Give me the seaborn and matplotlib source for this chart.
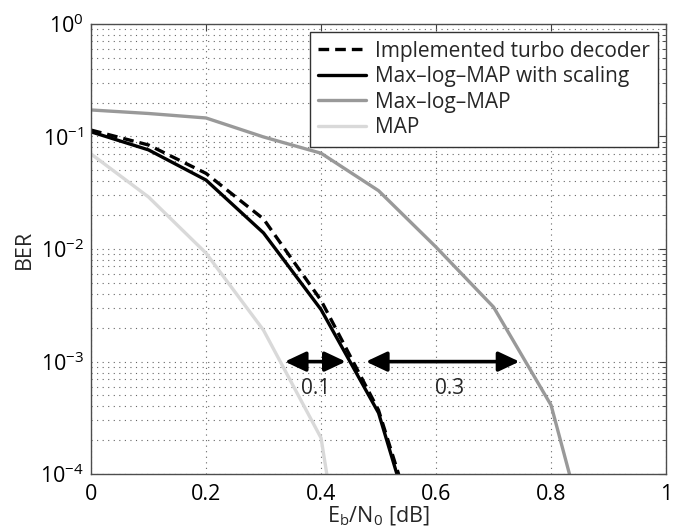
import numpy as np
import pandas as pd
import seaborn as sns
import matplotlib.pyplot as plt
from matplotlib.patches import FancyArrowPatch
from matplotlib.ticker import LogLocator, NullFormatter, FixedLocator

# --------------------------- DATA ---------------------------
ebn0 = [0.0, 0.1, 0.2, 0.3, 0.4, 0.5, 0.6, 0.7, 0.8, 0.9]

ber_implemented = [0.114, 0.084, 0.047, 0.0185, 0.0035, 3.7e-4, 8.7e-6]
ber_maxlog_scaled = [0.11, 0.076, 0.041, 0.0139, 0.0029, 3.5e-4, 7e-6]
ber_maxlog = [0.172, 0.16, 0.146, 0.099, 0.071, 0.033, 0.0104, 0.00305, 4.1e-4, 5e-6]
ber_map = [0.07, 0.029, 0.0092, 0.0019, 2.1e-4, 1.3e-7]

labels = ["Implemented turbo decoder", "Max\u2013log\u2013MAP with scaling",
          "Max\u2013log\u2013MAP", "MAP"]

# gain arrows at BER = 1e-3: (start, end, label position, text)
arrow_y = 1e-3
arrows = [(0.337, 0.443, 0.39, "0.1"), (0.478, 0.745, 0.624, "0.3")]
arrow_text_y = 5.8e-4

# --------------------------- STYLE ---------------------------
sns.set_style("white")
plt.rcParams['font.family'] = ['Open Sans', 'DejaVu Sans']
plt.rcParams['mathtext.fontset'] = 'custom'
plt.rcParams['mathtext.rm'] = 'Open Sans'
plt.rcParams['mathtext.it'] = 'Open Sans:italic'
plt.rcParams['axes.unicode_minus'] = True

series = [
    (ber_implemented, labels[0], 'black', (0, (3.2, 1.8))),
    (ber_maxlog_scaled, labels[1], 'black', '-'),
    (ber_maxlog, labels[2], '#999999', '-'),
    (ber_map, labels[3], '#d9d9d9', '-'),
]

fig = plt.figure(figsize=(6.79, 5.31), dpi=100)
ax = fig.add_axes([0.134, 0.107, 0.847, 0.848])

for vals, lab, col, ls in series:
    df = pd.DataFrame({'x': ebn0[:len(vals)], 'y': vals})
    sns.lineplot(data=df, x='x', y='y', ax=ax, color=col, linewidth=2.4,
                 linestyle=ls, label=lab, sort=False, estimator=None)

ax.set_yscale('log')
ax.set_xlim(0, 1)
ax.set_ylim(1e-4, 1)

ax.xaxis.set_major_locator(FixedLocator([0, 0.2, 0.4, 0.6, 0.8, 1.0]))
ax.set_xticklabels(['0', '0.2', '0.4', '0.6', '0.8', '1'])
ax.yaxis.set_major_locator(LogLocator(base=10, numticks=10))
ax.yaxis.set_minor_locator(LogLocator(base=10, subs=np.arange(2, 10), numticks=20))
ax.yaxis.set_minor_formatter(NullFormatter())

ax.grid(True, which='major', axis='both', linestyle=(0, (1, 4)), color='0.4', linewidth=0.8)
ax.grid(True, which='minor', axis='y', linestyle=(0, (1, 4)), color='0.4', linewidth=0.8)

ax.tick_params(which='both', direction='in', top=True, right=True, labelsize=15.5,
               colors='0.25', labelcolor='black')
ax.tick_params(which='major', length=5, width=0.8)
ax.tick_params(which='minor', length=3, width=0.6)
ax.tick_params(axis='x', pad=7)
ax.tick_params(axis='y', pad=5)
for sp in ax.spines.values():
    sp.set_color('0.3')
    sp.set_linewidth(1.0)

ax.set_xlabel(r'E$_\mathregular{b}$/N$_\mathregular{0}$ [dB]', fontsize=15.5, labelpad=0)
ax.set_ylabel('BER', fontsize=15.5, labelpad=4)

# --------------------------- ARROWS ---------------------------
for x0, x1, xt, txt in arrows:
    arr = FancyArrowPatch((x0, arrow_y), (x1, arrow_y),
                          arrowstyle='<|-|>,head_length=0.85,head_width=0.4',
                          mutation_scale=15, color='black', linewidth=2.6,
                          shrinkA=0, shrinkB=0)
    ax.add_patch(arr)
    ax.text(xt, arrow_text_y, txt, ha='center', va='center', fontsize=15)

# --------------------------- LEGEND ---------------------------
leg = ax.legend(loc='upper right', fontsize=15, handlelength=2.3, borderaxespad=0.4,
                labelspacing=0.22, handletextpad=0.4, borderpad=0.4,
                fancybox=False, framealpha=1, edgecolor='0.2')
leg.get_frame().set_linewidth(1.0)

fig.savefig('out.png', dpi=100)
